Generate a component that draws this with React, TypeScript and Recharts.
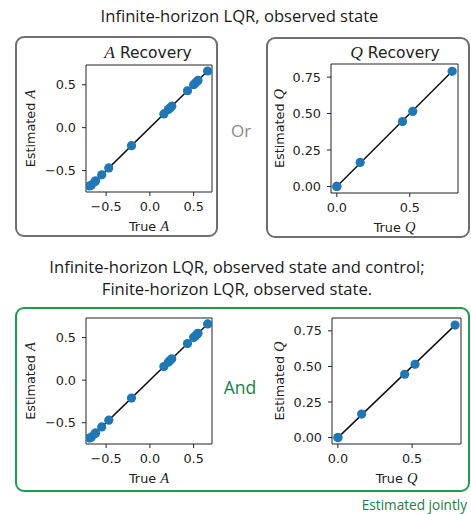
import React from "react";
import {
  ScatterChart,
  Scatter,
  XAxis,
  YAxis,
  ReferenceArea,
  Label,
} from "recharts";

// A entries, true vs estimated (they sit on the diagonal)
const aTrue = [-0.69, -0.67, -0.63, -0.62, -0.55, -0.47, -0.21, 0.16, 0.21, 0.23, 0.25, 0.43, 0.5, 0.52, 0.54, 0.55, 0.66];
const aEst = [-0.68, -0.67, -0.63, -0.62, -0.55, -0.47, -0.21, 0.16, 0.21, 0.23, 0.25, 0.43, 0.5, 0.52, 0.54, 0.55, 0.66];

// Q entries
const qTrue = [0, 0, 0.16, 0.45, 0.52, 0.79];
const qEst = [0, 0, 0.165, 0.445, 0.515, 0.79];

const aTicks = [-0.5, 0, 0.5];
const qXTicks = [0, 0.5];
const qYTicks = [0, 0.25, 0.5, 0.75];

const aXDomain = [-0.73, 0.71];
const aYDomain = [-0.75, 0.73];
const qXDomain = [-0.04, 0.83];
const qYDomain = [-0.045, 0.84];

const BLUE = "#1f77b4";
const INK = "#222";
const GREEN = "#1f9a4f";
const GREEN_TEXT = "#17804a";
const TICK_FONT = "DejaVu Sans";
const MATH_FONT = "Liberation Serif";

const fmt = (digits: number) => (v: number) => {
  const s = Math.abs(v).toFixed(digits);
  return v < 0 ? "\u2212" + s : s;
};

function Recovery({
  left, top, width, height, plotLeft, plotRight, plotTop, plotBottom,
  xs, ys, sym, xDomain, yDomain, xTicks, yTicks, yDigits, yLabelGap,
}: any) {
  const pts = xs.map((x: number, i: number) => ({ x, y: ys[i] }));
  const lo = Math.min(...xs);
  const hi = Math.max(...xs);
  const diag = [{ x: lo, y: lo }, { x: hi, y: hi }];

  const xLabel = (props: any) => {
    const vb = props.viewBox;
    return (
      <text x={vb.x + vb.width / 2} y={vb.y + 39} textAnchor="middle" fontFamily={TICK_FONT} fontSize={12.8} fill={INK}>
        True <tspan fontFamily={MATH_FONT} fontStyle="italic" fontSize={14.5}>{sym}</tspan>
      </text>
    );
  };
  const yLabel = (props: any) => {
    const vb = props.viewBox;
    const cx = vb.x + vb.width - yLabelGap;
    const cy = vb.y + vb.height / 2;
    return (
      <text x={cx} y={cy} transform={`rotate(-90, ${cx}, ${cy})`} textAnchor="middle" dominantBaseline="central" fontFamily={TICK_FONT} fontSize={12.8} fill={INK}>
        Estimated <tspan fontFamily={MATH_FONT} fontStyle="italic" fontSize={14.5}>{sym}</tspan>
      </text>
    );
  };

  return (
    <div style={{ position: "absolute", left, top }}>
      <ScatterChart
        width={width}
        height={height}
        margin={{ top: plotTop - top, right: left + width - plotRight, bottom: 0, left: 0 }}
      >
        <XAxis
          type="number"
          dataKey="x"
          domain={xDomain}
          ticks={xTicks}
          tickFormatter={fmt(1)}
          allowDataOverflow
          height={top + height - plotBottom}
          axisLine={false}
          tickSize={4}
          tickMargin={6}
          tickLine={{ stroke: INK }}
          tick={{ fill: INK, fontFamily: TICK_FONT, fontSize: 12.8 }}
        >
          <Label content={xLabel} />
        </XAxis>
        <YAxis
          type="number"
          dataKey="y"
          domain={yDomain}
          ticks={yTicks}
          tickFormatter={fmt(yDigits)}
          allowDataOverflow
          width={plotLeft - left}
          axisLine={false}
          tickSize={4}
          tickMargin={6}
          tickLine={{ stroke: INK }}
          tick={{ fill: INK, fontFamily: TICK_FONT, fontSize: 12.8 }}
        >
          <Label content={yLabel} />
        </YAxis>
        <ReferenceArea
          x1={xDomain[0]}
          x2={xDomain[1]}
          y1={yDomain[0]}
          y2={yDomain[1]}
          fill="none"
          stroke={INK}
          strokeWidth={1}
          fillOpacity={0}
        />
        <Scatter
          data={diag}
          line={{ stroke: "#111", strokeWidth: 1.5 }}
          shape={() => <g />}
          isAnimationActive={false}
        />
        <Scatter
          data={pts}
          shape={(p: any) => <circle cx={p.cx} cy={p.cy} r={4.6} fill={BLUE} />}
          isAnimationActive={false}
        />
      </ScatterChart>
    </div>
  );
}

function Title({ x, y, sym }: { x: number; y: number; sym: string }) {
  return (
    <div
      style={{
        position: "absolute",
        left: x - 80,
        top: y - 11,
        width: 160,
        textAlign: "center",
        fontFamily: TICK_FONT,
        fontSize: 15.5,
        lineHeight: "22px",
        color: INK,
        whiteSpace: "nowrap",
      }}
    >
      <span style={{ fontFamily: MATH_FONT, fontStyle: "italic", fontSize: 17.5 }}>{sym}</span> Recovery
    </div>
  );
}

const outerText: React.CSSProperties = {
  position: "absolute",
  fontFamily: "Open Sans",
  fontSize: 16.6,
  color: "#1a1a1a",
  textAlign: "center",
  whiteSpace: "nowrap",
};

export default function App() {
  return (
    <div style={{ position: "absolute", left: 0, top: 0, width: 471, height: 514, background: "#fff", overflow: "hidden" }}>
      <div style={{ ...outerText, left: 0, width: 479, top: 4, lineHeight: "24px" }}>
        Infinite-horizon LQR, observed state
      </div>

      <div style={{ position: "absolute", left: 15, top: 36, width: 199, height: 197, border: "2px solid #6e6e6e", borderRadius: 9 }} />
      <div style={{ position: "absolute", left: 266, top: 37, width: 200, height: 197, border: "2px solid #6e6e6e", borderRadius: 9 }} />

      <Title x={148} y={52} sym="A" />
      <Title x={395} y={52} sym="Q" />

      <div style={{ ...outerText, left: 221, width: 40, top: 118, fontSize: 17, color: "#8a8a8a", lineHeight: "26px" }}>Or</div>

      <Recovery
        left={16} top={40} width={200} height={196}
        plotLeft={86} plotRight={212} plotTop={65} plotBottom={192}
        xs={aTrue} ys={aEst} sym="A"
        xDomain={aXDomain} yDomain={aYDomain} xTicks={aTicks} yTicks={aTicks}
        yDigits={1} yLabelGap={56}
      />
      <Recovery
        left={268} top={40} width={198} height={196}
        plotLeft={331} plotRight={458} plotTop={64} plotBottom={193}
        xs={qTrue} ys={qEst} sym="Q"
        xDomain={qXDomain} yDomain={qYDomain} xTicks={qXTicks} yTicks={qYTicks}
        yDigits={2} yLabelGap={52}
      />

      <div style={{ ...outerText, left: 0, width: 474, top: 256, lineHeight: "22px" }}>
        Infinite-horizon LQR, observed state and control;
        <br />
        Finite-horizon LQR, observed state.
      </div>

      <div style={{ position: "absolute", left: 15, top: 307, width: 451, height: 181, border: "2px solid " + GREEN, borderRadius: 9 }} />

      <div style={{ ...outerText, left: 210, width: 60, top: 374, fontSize: 17.5, color: GREEN_TEXT, lineHeight: "26px" }}>And</div>

      <Recovery
        left={16} top={309} width={200} height={180}
        plotLeft={86} plotRight={212} plotTop={318} plotBottom={444}
        xs={aTrue} ys={aEst} sym="A"
        xDomain={aXDomain} yDomain={aYDomain} xTicks={aTicks} yTicks={aTicks}
        yDigits={1} yLabelGap={56}
      />
      <Recovery
        left={268} top={309} width={198} height={180}
        plotLeft={332} plotRight={461} plotTop={318} plotBottom={444}
        xs={qTrue} ys={qEst} sym="Q"
        xDomain={qXDomain} yDomain={qYDomain} xTicks={qXTicks} yTicks={qYTicks}
        yDigits={2} yLabelGap={53}
      />

      <div style={{ ...outerText, left: 290, width: 177, top: 495, fontSize: 13.6, color: GREEN_TEXT, textAlign: "right", lineHeight: "19px" }}>
        Estimated jointly
      </div>
    </div>
  );
}
